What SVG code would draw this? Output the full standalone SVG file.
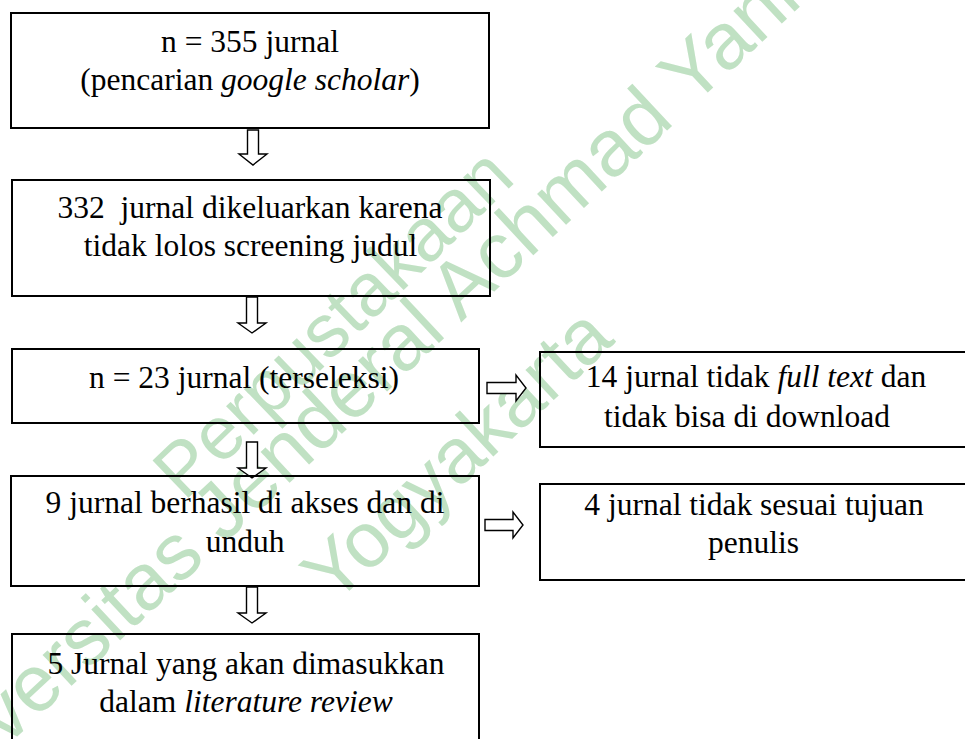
<svg xmlns="http://www.w3.org/2000/svg" width="965" height="739" viewBox="0 0 965 739">
<style>
.bg{fill:#ffffff}
.wm{font-family:"Liberation Sans",Arial,sans-serif;font-size:78px;fill:#c0e1c3}
.box{fill:none;stroke:#000;stroke-width:2}
.arr{fill:#fff;stroke:#000;stroke-width:1.4;stroke-linejoin:miter}
.t{font-family:"Liberation Serif","Times New Roman","DejaVu Serif",serif;font-size:31.5px;fill:#000;text-anchor:middle;white-space:pre}
.i{font-style:italic}
</style>
<rect class="bg" x="0" y="0" width="965" height="739"/>
<g id="watermark">
<text class="wm" transform="translate(184,502) rotate(-44)" style="font-size:75px">Perpustakaan</text>
<text class="wm" transform="translate(-82,829) rotate(-43)" style="font-size:80px">Universitas Jenderal Achmad Yani</text>
<text class="wm" transform="translate(333,606) rotate(-43)">Yogyakarta</text>
</g>
<g id="connectors">
<path class="arr" d="M247.5,130 H258.5 V154 H267 L253,165 L239,154 H247.5 Z"/>
<path class="arr" d="M246.5,297 H257.5 V323 H266 L252,333 L238,323 H246.5 Z"/>
<path class="arr" d="M246.5,442 H257.5 V468 H266 L252,478 L238,468 H246.5 Z"/>
<path class="arr" d="M246.5,587 H257.5 V613 H266 L252,623 L238,613 H246.5 Z"/>
<path class="arr" d="M487,382.5 V393.5 H516 V401 L526,388 L516,375 V382.5 Z"/>
<path class="arr" d="M485,519.5 V530.5 H513 V538 L523,525 L513,512 V519.5 Z"/>
</g>
<g id="n1">
<rect class="box" x="11" y="13" width="478" height="115"/>
<text class="t" font-family="Liberation Serif, Times New Roman, serif" x="250" y="52">n = 355 jurnal</text>
<text class="t" font-family="Liberation Serif, Times New Roman, serif" x="250" y="90">(pencarian <tspan class="i">google scholar</tspan>)</text>
</g>
<g id="n2">
<rect class="box" x="12" y="180" width="478" height="116"/>
<text class="t" font-family="Liberation Serif, Times New Roman, serif" x="250" y="218" xml:space="preserve">332  jurnal dikeluarkan karena</text>
<text class="t" font-family="Liberation Serif, Times New Roman, serif" x="250.5" y="256">tidak lolos screening judul</text>
</g>
<g id="n3">
<rect class="box" x="12" y="349" width="467" height="74"/>
<text class="t" font-family="Liberation Serif, Times New Roman, serif" x="244" y="388">n = 23 jurnal (terseleksi)</text>
</g>
<g id="n4">
<rect class="box" x="11" y="476" width="468" height="110"/>
<text class="t" font-family="Liberation Serif, Times New Roman, serif" x="245" y="513">9 jurnal berhasil di akses dan di</text>
<text class="t" font-family="Liberation Serif, Times New Roman, serif" x="245" y="552">unduh</text>
</g>
<g id="n5">
<rect class="box" x="12" y="634" width="467" height="130"/>
<text class="t" font-family="Liberation Serif, Times New Roman, serif" x="246" y="674">5 Jurnal yang akan dimasukkan</text>
<text class="t" font-family="Liberation Serif, Times New Roman, serif" x="246" y="712">dalam <tspan class="i">literature review</tspan></text>
</g>
<g id="n6">
<rect class="box" x="540" y="352" width="440" height="95"/>
<text class="t" font-family="Liberation Serif, Times New Roman, serif" x="756" y="387">14 jurnal tidak <tspan class="i">full text</tspan> dan</text>
<text class="t" font-family="Liberation Serif, Times New Roman, serif" x="747" y="427">tidak bisa di download</text>
</g>
<g id="n7">
<rect class="box" x="540" y="484" width="440" height="96"/>
<text class="t" font-family="Liberation Serif, Times New Roman, serif" x="754" y="515">4 jurnal tidak sesuai tujuan</text>
<text class="t" font-family="Liberation Serif, Times New Roman, serif" x="753.5" y="553">penulis</text>
</g>
</svg>
